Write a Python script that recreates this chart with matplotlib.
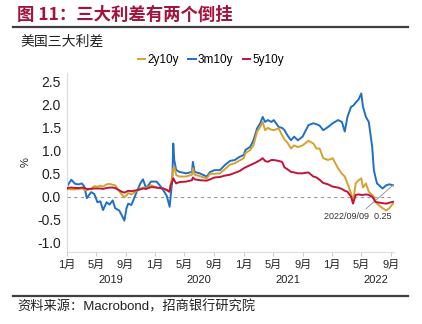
import matplotlib
matplotlib.use("Agg")
import matplotlib.pyplot as plt
import matplotlib.dates as mdates
import matplotlib.transforms as mtransforms
import pandas as pd

plt.rcParams['font.family'] = ['Liberation Sans', 'Noto Sans CJK SC', 'DejaVu Sans']

# 数据
fechas = [
    "2019-01-02", "2019-01-20", "2019-02-05", "2019-02-20", "2019-03-05", "2019-03-15",
    "2019-03-25", "2019-04-12", "2019-04-25", "2019-05-08", "2019-05-20", "2019-05-31",
    "2019-06-15", "2019-06-27", "2019-07-10", "2019-07-20", "2019-08-06", "2019-08-16",
    "2019-08-27", "2019-09-05", "2019-09-12", "2019-09-25", "2019-10-15", "2019-11-01",
    "2019-11-12", "2019-11-25", "2019-12-15", "2020-01-07", "2020-01-20", "2020-02-03",
    "2020-02-18", "2020-03-01", "2020-03-05", "2020-03-12", "2020-03-16", "2020-03-20",
    "2020-03-28", "2020-04-11", "2020-05-08", "2020-06-01", "2020-06-05", "2020-06-12",
    "2020-07-03", "2020-08-01", "2020-08-15", "2020-09-03", "2020-09-25", "2020-10-15",
    "2020-11-05", "2020-11-25", "2020-12-15", "2021-01-01", "2021-01-08", "2021-01-28",
    "2021-02-10", "2021-02-25", "2021-03-10", "2021-03-20", "2021-03-30", "2021-04-10",
    "2021-04-25", "2021-05-05", "2021-05-25", "2021-06-08", "2021-06-18", "2021-06-30",
    "2021-07-15", "2021-07-28", "2021-08-12", "2021-09-01", "2021-09-25", "2021-10-15",
    "2021-10-28", "2021-11-10", "2021-11-25", "2021-12-15", "2022-01-03", "2022-01-25",
    "2022-02-10", "2022-02-22", "2022-03-05", "2022-03-20", "2022-03-28", "2022-04-08",
    "2022-04-20", "2022-05-01", "2022-05-08", "2022-05-20", "2022-06-01", "2022-06-15",
    "2022-06-22", "2022-06-28", "2022-07-05", "2022-07-28", "2022-08-12", "2022-08-25",
    "2022-09-09",
]

s_2y10y = [
    0.17, 0.16, 0.16, 0.17, 0.18, 0.15,
    0.14, 0.18, 0.23, 0.22, 0.24, 0.22,
    0.27, 0.28, 0.26, 0.25, 0.12, 0.05,
    -0.01, 0.03, 0.08, 0.05, 0.12, 0.18,
    0.20, 0.18, 0.25, 0.20, 0.19, 0.18,
    0.14, 0.10, 0.25, 0.45, 0.62, 0.65,
    0.47, 0.44, 0.44, 0.48, 0.62, 0.48,
    0.45, 0.40, 0.50, 0.50, 0.51, 0.60,
    0.70, 0.73, 0.79, 0.84, 0.95, 1.02,
    1.12, 1.42, 1.52, 1.63, 1.45, 1.50,
    1.46, 1.45, 1.49, 1.34, 1.25, 1.18,
    1.05, 1.12, 1.08, 1.12, 1.22, 1.16,
    1.05, 1.05, 0.84, 0.80, 0.84, 0.62,
    0.50, 0.44, 0.29, 0.07, -0.11, 0.29,
    0.36, 0.40, 0.20, 0.29, 0.11, 0.04,
    0.00, -0.11, -0.15, -0.25, -0.30, -0.25,
    -0.15,
]

s_3m10y = [
    0.22, 0.37, 0.28, 0.27, 0.29, 0.22,
    -0.03, 0.10, 0.06, -0.12, -0.10, -0.29,
    -0.12, -0.17, -0.08, -0.25, -0.30, -0.40,
    -0.52, -0.25, -0.15, -0.18, 0.08, 0.29,
    0.38, 0.18, 0.33, 0.33, 0.25, 0.15,
    0.02, -0.22, 0.00, 0.36, 1.16, 0.80,
    0.58, 0.54, 0.51, 0.54, 0.76, 0.54,
    0.51, 0.44, 0.54, 0.58, 0.58, 0.69,
    0.78, 0.80, 0.87, 0.91, 1.02, 1.09,
    1.23, 1.49, 1.60, 1.74, 1.63, 1.67,
    1.63, 1.67, 1.52, 1.50, 1.45, 1.34,
    1.23, 1.31, 1.23, 1.31, 1.56, 1.60,
    1.58, 1.55, 1.45, 1.52, 1.60, 1.67,
    1.63, 1.42, 1.74, 1.96, 1.98, 2.05,
    2.12, 2.25, 1.96, 1.74, 1.63, 1.09,
    0.58, 0.44, 0.29, 0.18, 0.25, 0.27,
    0.25,
]

s_5y10y = [
    0.19, 0.20, 0.19, 0.19, 0.20, 0.19,
    0.17, 0.17, 0.18, 0.18, 0.18, 0.17,
    0.19, 0.20, 0.20, 0.19, 0.14, 0.11,
    0.09, 0.11, 0.13, 0.12, 0.14, 0.16,
    0.18, 0.17, 0.21, 0.20, 0.19, 0.18,
    0.15, 0.11, 0.25, 0.33, 0.40, 0.36,
    0.29, 0.32, 0.33, 0.36, 0.42, 0.38,
    0.36, 0.35, 0.38, 0.42, 0.43, 0.46,
    0.48, 0.52, 0.56, 0.62, 0.64, 0.69,
    0.72, 0.76, 0.80, 0.84, 0.78, 0.76,
    0.80, 0.80, 0.78, 0.76, 0.64, 0.60,
    0.54, 0.53, 0.51, 0.51, 0.53, 0.44,
    0.42, 0.37, 0.30, 0.27, 0.22, 0.20,
    0.17, 0.13, 0.11, 0.00, -0.15, 0.04,
    0.05, 0.04, 0.04, 0.05, 0.04, 0.00,
    -0.05, -0.11, -0.12, -0.14, -0.15, -0.13,
    -0.11,
]

fechas = pd.to_datetime(fechas)

color_2y = '#D6A22B'
color_3m = '#1F6FC8'
color_5y = '#C0143C'

fig = plt.figure(figsize=(4.22, 3.24), dpi=100)
ax = fig.add_axes([0.158, 0.2228, 0.775, 0.5525])

ax.axhline(0, color='#9a9a9a', lw=0.8, ls=(0, (3, 3)), zorder=1)
ax.plot(fechas, s_2y10y, color=color_2y, lw=1.4, label='2y10y', zorder=3)
ax.plot(fechas, s_3m10y, color=color_3m, lw=1.4, label='3m10y', zorder=2)
ax.plot(fechas, s_5y10y, color=color_5y, lw=1.4, label='5y10y', zorder=4)

ax.set_xlim(pd.Timestamp("2019-01-01"), pd.Timestamp("2022-09-12"))
ax.set_ylim(-1.2, 2.7)
ax.set_yticks([-1.0, -0.5, 0.0, 0.5, 1.0, 1.5, 2.0, 2.5])
ax.set_yticklabels([f"{v:.1f}" for v in ax.get_yticks()], fontsize=10, color='#222222')

ax.xaxis.set_major_locator(mdates.MonthLocator(bymonth=[1, 5, 9]))
ax.xaxis.set_major_formatter(mdates.DateFormatter('%-m月'))
ax.tick_params(axis='x', labelsize=8, colors='#222222', length=3, color='#cccccc', pad=3)
ax.tick_params(axis='y', length=0, pad=4)

for lado in ['top', 'right']:
    ax.spines[lado].set_visible(False)
for lado in ['left', 'bottom']:
    ax.spines[lado].set_color('#dddddd')
    ax.spines[lado].set_linewidth(0.8)

# 年份标签
trans = mtransforms.blended_transform_factory(ax.transData, ax.transAxes)
for anio in [2019, 2020, 2021, 2022]:
    ax.text(pd.Timestamp(f"{anio}-07-01"), -0.155, str(anio), transform=trans,
            ha='center', va='center', fontsize=8, color='#222222')

ax.set_ylabel('%', fontsize=8, color='#222222', labelpad=5)

ax.annotate('2022/09/09  0.25', xy=(fechas[-1], s_3m10y[-1]),
            xytext=(pd.Timestamp("2022-04-16"), -0.42), textcoords='data',
            ha='center', va='center', fontsize=6.5, color='#333333',
            arrowprops=dict(arrowstyle='-', color='#999999', lw=0.7, shrinkA=0, shrinkB=0))

fig.legend(loc='center', bbox_to_anchor=(211 / 422, 1 - 60 / 324), ncol=3, frameon=False,
           fontsize=8.5, handlelength=0.6, handletextpad=0.2, columnspacing=0.8)

# 标题、分隔线、来源
fig.text(17 / 422, 1 - 15 / 324, '图 11：三大利差有两个倒挂', fontsize=12.5, fontweight='bold',
         color='#A4133C', ha='left', va='center', family=['Noto Sans CJK SC', 'DejaVu Sans'])
fig.text(20 / 422, 1 - 42 / 324, '美国三大利差', fontsize=10, color='#222222',
         ha='left', va='center', family=['Noto Sans CJK SC', 'DejaVu Sans'])
fig.add_artist(plt.Line2D([13 / 422, 408 / 422], [1 - 27 / 324, 1 - 27 / 324],
                          color='#404040', lw=1.6, transform=fig.transFigure))
fig.add_artist(plt.Line2D([13 / 422, 408 / 422], [1 - 296 / 324, 1 - 296 / 324],
                          color='#404040', lw=1.6, transform=fig.transFigure))
fig.text(17 / 422, 1 - 307 / 324, '资料来源：Macrobond，招商银行研究院', fontsize=9.5,
         color='#222222', ha='left', va='center')

fig.savefig('out.png', dpi=100)
